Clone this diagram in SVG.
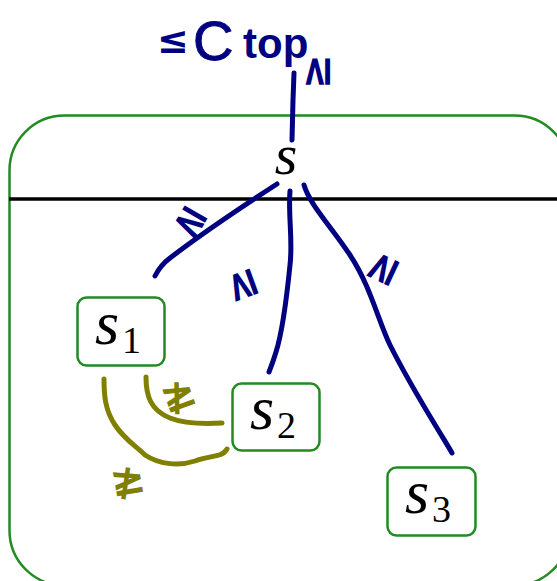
<svg xmlns="http://www.w3.org/2000/svg" width="557" height="581" viewBox="0 0 557 581">
<style>
.box{fill:#fff;stroke:#228b22;stroke-width:2.5}
.lbl{font-family:"Liberation Serif","DejaVu Serif",serif;font-style:italic;fill:#000}
.sub{font-family:"Liberation Serif","DejaVu Serif",serif;fill:#000}
.ink{fill:none;stroke:#000080;stroke-width:5;stroke-linecap:round;stroke-linejoin:round}
.olive{fill:none;stroke:#808000;stroke-width:5;stroke-linecap:round;stroke-linejoin:round}
.mark{font-family:"DejaVu Sans","Liberation Sans",sans-serif;font-weight:bold;fill:#000080;font-size:42px}
.omark{font-family:"DejaVu Sans","Liberation Sans",sans-serif;font-weight:bold;fill:#808000;font-size:42px}
</style>
<rect width="557" height="581" fill="#fff"/>
<g id="container">
<rect x="9.5" y="115.5" width="560" height="470" rx="55" fill="none" stroke="#228b22" stroke-width="2.5"/>
<line x1="9" y1="199" x2="557" y2="199" stroke="#000" stroke-width="3.5"/>
</g>
<g id="connectors">
<path class="ink" d="M292,140 L293,100 L294,73"/>
<path class="ink" d="M277,184 C240,208 200,235 170,258 C162,264 158,270 155,276"/>
<path class="ink" d="M290,191 C288,215 293,240 290,265 C287,295 283,330 276,352 C273,362 271,367 269,372"/>
<path class="ink" d="M304,185 C310,205 330,225 350,255 C370,285 378,320 390,345 C405,375 420,400 437,428 C443,438 448,446 452,453"/>
<path class="olive" d="M146,377 C146,395 150,410 170,418 C185,424 205,424 222,423"/>
<path class="olive" d="M104,379 C104,395 105,410 115,425 C125,440 135,445 145,455 C160,465 180,466 195,461 C210,455 222,458 227,449"/>
</g>
<g id="label-top">
<text x="157" y="53" font-family="DejaVu Sans,Liberation Sans,sans-serif" font-weight="bold" font-size="38" fill="#000080">≤</text>
<text x="193" y="60" font-family="Liberation Sans,DejaVu Sans,sans-serif" font-size="56" fill="#000080" stroke="#000080" stroke-width="1">C</text>
<text x="243" y="58" font-family="Liberation Sans,DejaVu Sans,sans-serif" font-weight="bold" font-size="42" fill="#000080">top</text>
<text class="mark" transform="translate(330,72) rotate(-90)" text-anchor="middle">≥</text>
<text class="mark" transform="translate(196,212) rotate(-150)" text-anchor="middle">≥</text>
<text class="mark" transform="translate(254,281) rotate(-110)" text-anchor="middle">≥</text>
<text class="mark" transform="translate(394,274) rotate(-65)" text-anchor="middle">≥</text>
<text class="omark" transform="translate(183,408) rotate(-20)" text-anchor="middle">≱</text>
<text class="omark" transform="translate(130,494) rotate(-10)" text-anchor="middle">≱</text>
</g>
<g id="node-s">
<text class="lbl" x="286" y="174" font-size="58" text-anchor="middle">s</text>
</g>
<g id="node-s1">
<rect class="box" x="77.5" y="297.5" width="87" height="68" rx="9"/>
<text class="lbl" x="95" y="344" font-size="62">s</text>
<text class="sub" x="122" y="353" font-size="38">1</text>
</g>
<g id="node-s2">
<rect class="box" x="232.5" y="383.5" width="87" height="67" rx="9"/>
<text class="lbl" x="250" y="429" font-size="62">s</text>
<text class="sub" x="277" y="438" font-size="38">2</text>
</g>
<g id="node-s3">
<rect class="box" x="387.5" y="467.5" width="88" height="68" rx="9"/>
<text class="lbl" x="405" y="513" font-size="62">s</text>
<text class="sub" x="432" y="522" font-size="38">3</text>
</g>
</svg>
